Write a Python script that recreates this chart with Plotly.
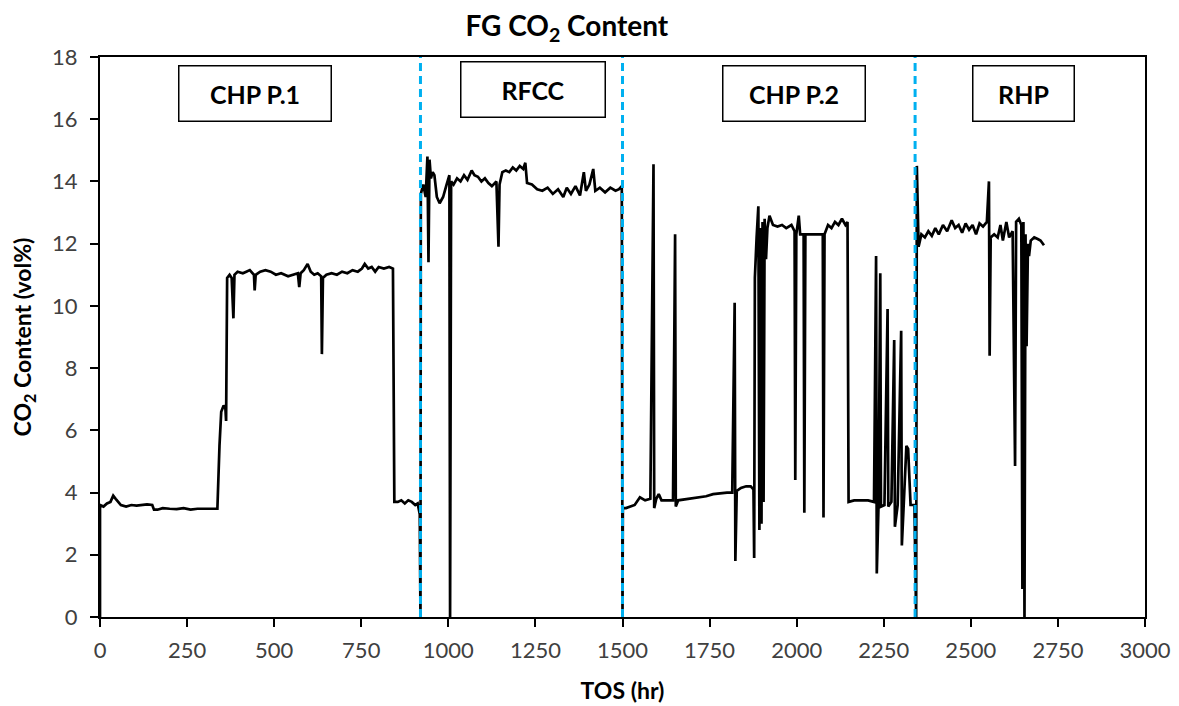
import plotly.graph_objects as go

# CO2 content of the flue gas
tos_chp1 = [0, 0, 10, 20, 30, 38, 45, 52, 60, 75, 90, 105, 120, 135, 150, 155, 165, 180, 200, 220,
            240, 260, 280, 300, 320, 337, 343, 348, 355, 360, 362, 365, 372, 378, 383, 386, 395, 410,
            420, 430, 442, 444, 447, 460, 475, 490, 505, 520, 540, 555, 568, 572, 576, 585, 596, 605,
            615, 625, 635, 637, 640, 650, 665, 680, 695, 710, 725, 740, 752, 760, 770, 780, 790, 800,
            815, 830, 841, 845, 855, 865, 875, 885, 895, 905, 912, 918, 920]
co2_chp1 = [0, 3.6, 3.55, 3.65, 3.7, 3.9, 3.8, 3.7, 3.6, 3.55, 3.6, 3.58, 3.6, 3.62, 3.6, 3.45, 3.45,
            3.5, 3.48, 3.47, 3.5, 3.45, 3.48, 3.48, 3.48, 3.48, 5.5, 6.6, 6.8, 6.7, 6.3, 10.9, 11.0,
            10.9, 9.6, 11.0, 11.1, 11.05, 11.1, 11.15, 11.0, 10.5, 11.0, 11.1, 11.15, 11.1, 11.0, 11.05,
            10.95, 11.0, 11.05, 10.6, 11.05, 11.15, 11.35, 11.1, 11.0, 11.05, 10.95, 8.45, 10.9, 11.0,
            11.05, 11.0, 11.1, 11.05, 11.15, 11.1, 11.2, 11.35, 11.2, 11.25, 11.1, 11.25, 11.2, 11.25,
            11.2, 3.7, 3.7, 3.75, 3.65, 3.75, 3.7, 3.6, 3.65, 3.3, 0]

tos_rfcc = [921, 928, 935, 940, 943, 946, 950, 955, 960, 967, 975, 985, 995, 1003, 1005, 1008, 1015,
            1025, 1035, 1045, 1055, 1067, 1075, 1085, 1095, 1105, 1115, 1125, 1138, 1144, 1147, 1155,
            1165, 1175, 1185, 1195, 1205, 1215, 1221, 1226, 1240, 1255, 1270, 1285, 1300, 1315, 1330,
            1340, 1352, 1365, 1378, 1389, 1395, 1405, 1416, 1422, 1435, 1450, 1465, 1480, 1490, 1498,
            1500]
co2_rfcc = [13.6, 13.9, 13.5, 14.8, 11.4, 14.7, 14.1, 14.3, 14.2, 13.5, 13.3, 13.5, 13.9, 14.2, 0,
            14.0, 13.9, 14.1, 14.0, 14.2, 14.05, 14.35, 14.2, 14.15, 14.0, 14.1, 13.95, 13.85, 14.0,
            11.9, 13.9, 14.3, 14.35, 14.3, 14.45, 14.35, 14.5, 14.4, 14.6, 13.95, 13.9, 13.75, 13.7,
            13.8, 13.6, 13.75, 13.5, 13.8, 13.6, 13.85, 13.55, 14.3, 13.7, 13.9, 14.4, 13.7, 13.8,
            13.65, 13.8, 13.7, 13.75, 13.85, 0]

tos_chp2 = [1501, 1510, 1520, 1535, 1550, 1565, 1580, 1589, 1591, 1597, 1604, 1612, 1630, 1645, 1651,
            1653, 1660, 1680, 1700, 1720, 1740, 1760, 1780, 1800, 1815, 1822, 1824, 1828, 1840, 1855,
            1868, 1876, 1878, 1880, 1885, 1890, 1893, 1896, 1899, 1902, 1905, 1908, 1912, 1916, 1922,
            1932, 1945, 1958, 1970, 1985, 1994, 1996, 1999, 2006, 2010, 2020, 2022, 2025, 2040, 2060,
            2075, 2077, 2080, 2090, 2100, 2110, 2120, 2130, 2140, 2146, 2149, 2165, 2185, 2205, 2222,
            2228, 2230, 2235, 2240, 2242, 2252, 2261, 2263, 2272, 2280, 2282, 2290, 2300, 2302, 2308,
            2315, 2320, 2327, 2338, 2343]
co2_chp2 = [3.5, 3.5, 3.55, 3.6, 3.85, 3.75, 3.8, 14.55, 3.5, 3.8, 3.95, 3.75, 3.75, 3.75, 12.3, 3.55,
            3.75, 3.78, 3.8, 3.85, 3.88, 3.95, 3.98, 4.0, 4.0, 10.1, 1.8, 4.05, 4.15, 4.2, 4.2, 4.1,
            1.9, 10.9, 12.2, 13.2, 2.8, 12.5, 3.0, 12.7, 3.7, 12.8, 11.5, 12.5, 12.9, 12.6, 12.55,
            12.6, 12.5, 12.6, 12.4, 4.4, 12.3, 12.9, 12.3, 12.3, 3.35, 12.3, 12.3, 12.3, 12.3, 3.2,
            12.3, 12.6, 12.5, 12.7, 12.6, 12.8, 12.6, 12.7, 3.7, 3.75, 3.75, 3.75, 3.7, 11.6, 1.4,
            3.6, 11.05, 3.55, 3.6, 9.9, 3.55, 3.7, 8.9, 2.9, 3.6, 9.2, 2.3, 3.6, 5.5, 5.4, 3.6, 3.6, 0]

tos_rhp = [2345, 2348, 2350, 2358, 2368, 2378, 2388, 2398, 2408, 2420, 2432, 2445, 2455, 2465, 2475,
           2485, 2495, 2505, 2515, 2525, 2535, 2546, 2552, 2554, 2557, 2567, 2577, 2585, 2592, 2602,
           2610, 2620, 2627, 2630, 2638, 2645, 2648, 2651, 2654, 2657, 2660, 2664, 2667, 2672, 2682,
           2692, 2700, 2710]
co2_rhp = [14.5, 12.2, 11.9, 12.3, 12.2, 12.4, 12.25, 12.5, 12.3, 12.6, 12.4, 12.75, 12.5, 12.6,
           12.35, 12.65, 12.45, 12.6, 12.3, 12.65, 12.55, 12.7, 14.0, 8.4, 12.2, 12.3, 12.2, 12.6,
           12.1, 12.7, 12.2, 12.4, 4.85, 12.7, 12.8, 12.6, 0.9, 12.7, 0, 12.3, 8.7, 12.0, 11.6, 12.1,
           12.2, 12.15, 12.1, 11.95]

# unit changeovers and period labels
switch_tos = [920, 1500, 2340]
period_names = ['CHP P.1', 'RFCC', 'CHP P.2', 'RHP']
period_mid = [445, 1243, 1992, 2651]

tos = tos_chp1 + tos_rfcc + tos_chp2 + tos_rhp
co2 = co2_chp1 + co2_rfcc + co2_chp2 + co2_rhp

FONT = 'Lato, sans-serif'

fig = go.Figure()

fig.add_trace(go.Scatter(
    x=tos, y=co2, mode='lines',
    line=dict(color='black', width=2.7),
    showlegend=False
))

for t in switch_tos:
    fig.add_shape(type='line', x0=t, x1=t, y0=0, y1=18, xref='x', yref='y',
                  line=dict(color='#00B0F0', width=3, dash='8px,5px'), layer='above')

# box sizes per label (px)
box_w = {'CHP P.1': 145, 'RFCC': 137, 'CHP P.2': 135, 'RHP': 94}
box_y = {'CHP P.1': 16.84, 'RFCC': 16.94, 'CHP P.2': 16.84, 'RHP': 16.84}
for name, mid in zip(period_names, period_mid):
    fig.add_annotation(x=mid, y=box_y[name], xref='x', yref='y', text='<b>%s</b>' % name,
                       showarrow=False, width=box_w[name], height=48, borderpad=3,
                       bordercolor='black', borderwidth=1.5, bgcolor='white',
                       font=dict(family=FONT, size=25, color='black'))

fig.update_layout(
    width=1179, height=706,
    margin=dict(l=92, r=42, t=49, b=97),
    plot_bgcolor='white', paper_bgcolor='white',
    font=dict(family=FONT, color='#404040'),
    title=dict(text='<b>FG CO<sub>2</sub> Content</b>', x=0.474, xanchor='center',
               y=0.9745, yanchor='middle', font=dict(family=FONT, size=28, color='black')),
)

fig.update_xaxes(
    range=[0, 3000], tickvals=list(range(0, 3001, 250)),
    showgrid=False, zeroline=False,
    showline=True, linecolor='black', linewidth=2, mirror=True,
    ticks='outside', ticklen=8, tickwidth=2, tickcolor='black',
    ticklabelstandoff=5,
    tickfont=dict(size=22, color='#404040'),
    title=dict(text='<b>TOS (hr)</b>', font=dict(size=23, color='black'), standoff=20)
)
fig.update_yaxes(
    range=[0, 18], tickvals=list(range(0, 19, 2)),
    showgrid=False, zeroline=False,
    showline=True, linecolor='black', linewidth=2, mirror=True,
    ticks='outside', ticklen=8, tickwidth=2, tickcolor='black',
    ticklabelstandoff=8,
    tickfont=dict(size=22, color='#404040'),
    title=dict(text='<b>CO<sub>2</sub> Content (vol%)</b>', font=dict(size=23, color='black'),
               standoff=14)
)

fig.write_html('out.html')
